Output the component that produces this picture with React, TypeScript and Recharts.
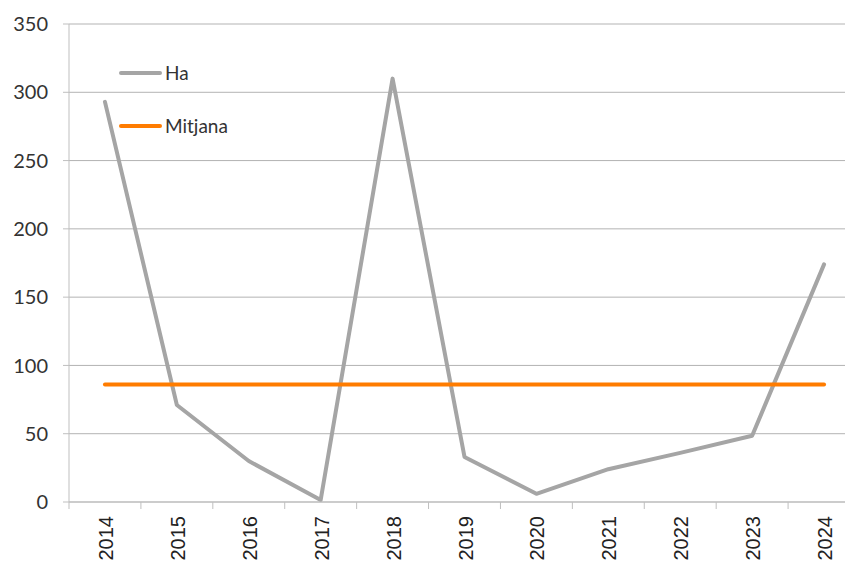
import { LineChart, Line, XAxis, YAxis, CartesianGrid } from 'recharts'

const years = ['2014', '2015', '2016', '2017', '2018', '2019', '2020', '2021', '2022', '2023', '2024']
const ha = [293, 71, 30, 1.5, 310, 33, 6, 24, 36, 48.5, 174]
const mitjana = [86, 86, 86, 86, 86, 86, 86, 86, 86, 86, 86]
const yTicks = [0, 50, 100, 150, 200, 250, 300, 350]

const data = years.map((year, i) => ({ year, ha: ha[i], mitjana: mitjana[i] }))

const CHART_W = 860
const CHART_H = 565
const AXIS_W = 69
const BAND = (CHART_W - AXIS_W) / years.length

const legendItems = [
  { name: 'Ha', color: '#a5a5a5' },
  { name: 'Mitjana', color: '#ff7c00' },
]

function YearTick({ x, y, payload }: any) {
  return (
    <g>
      <line x1={x - BAND / 2} y1={y - 8} x2={x - BAND / 2} y2={y - 1} stroke="#bfbfbf" strokeWidth={1} />
      <text
        transform={`translate(${x + 1},${y + 6}) rotate(-90)`}
        textAnchor="end"
        dominantBaseline="central"
        fontFamily="'Liberation Sans', Arial, sans-serif"
        fontSize={20}
        fill="#222"
      >
        {payload.value}
      </text>
    </g>
  )
}

function LegendBox() {
  return (
    <div style={{ position: 'absolute', top: 46, left: 119, fontFamily: 'Lato, sans-serif', fontSize: 19, color: '#333' }}>
      {legendItems.map((item) => (
        <div key={item.name} style={{ display: 'flex', alignItems: 'center', height: 53 }}>
          <span style={{ display: 'inline-block', width: 43, height: 4, borderRadius: 2, background: item.color, marginRight: 3 }} />
          <span>{item.name}</span>
        </div>
      ))}
    </div>
  )
}

export default function App() {
  return (
    <div style={{ position: 'absolute', left: 0, top: 0, width: 845, height: 565, overflow: 'hidden', background: '#fff' }}>
      <LineChart width={CHART_W} height={CHART_H} data={data} margin={{ top: 24, right: 0, bottom: 0, left: 0 }}>
        <CartesianGrid vertical={false} stroke="#b3b3b3" />
        <XAxis
          dataKey="year"
          scale="band"
          height={63}
          axisLine={{ stroke: '#bfbfbf' }}
          tickLine={false}
          interval={0}
          tick={<YearTick />}
        />
        <YAxis
          domain={[0, 350]}
          ticks={yTicks}
          width={AXIS_W}
          axisLine={{ stroke: '#bfbfbf' }}
          tickLine={{ stroke: '#bfbfbf' }}
          tickSize={6}
          tickMargin={15}
          tick={{ fontFamily: 'Lato, sans-serif', fontSize: 20, fill: '#333' }}
        />
        <Line
          type="linear"
          dataKey="ha"
          name="Ha"
          stroke="#a5a5a5"
          strokeWidth={4}
          strokeLinecap="round"
          strokeLinejoin="round"
          dot={false}
          isAnimationActive={false}
        />
        <Line
          type="linear"
          dataKey="mitjana"
          name="Mitjana"
          stroke="#ff7c00"
          strokeWidth={4}
          strokeLinecap="round"
          dot={false}
          isAnimationActive={false}
        />
      </LineChart>
      <LegendBox />
    </div>
  )
}
